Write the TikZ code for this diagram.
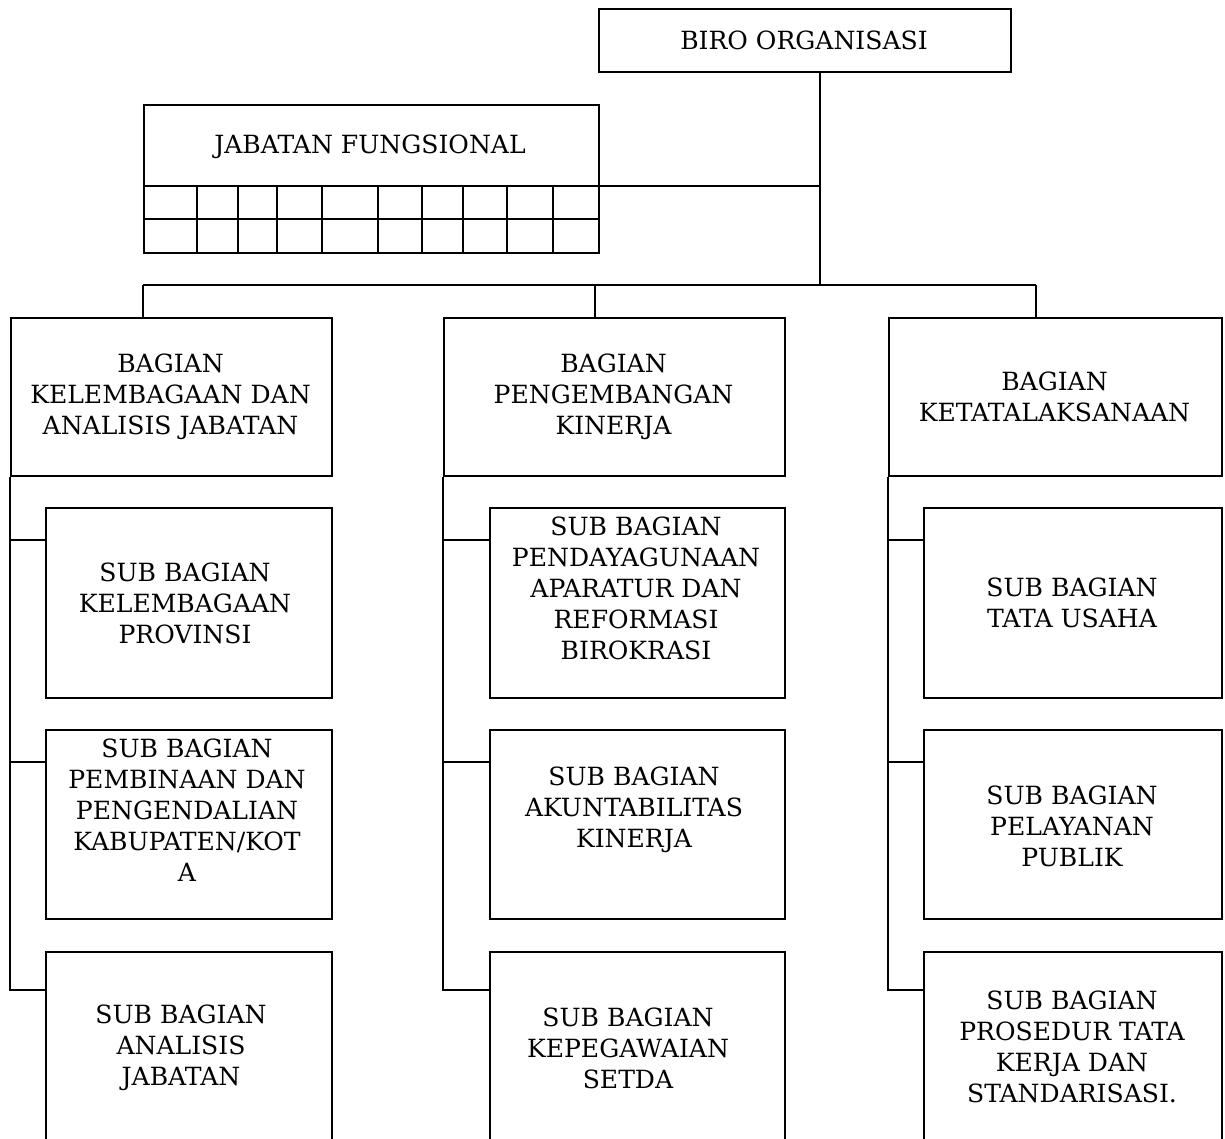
\documentclass[tikz,border=0pt]{standalone}
\usepackage{fontspec}
\setmainfont{DejaVu Serif}
\begin{document}
\begin{tikzpicture}[x=0.75pt,y=-0.75pt,
  box/.style={draw, line width=1.3pt, rectangle, inner sep=0pt, anchor=north west},
  txt/.style={align=center, inner sep=0pt, font=\fontsize{18.8}{23.25}\selectfont},
  conn/.style={draw, line width=1.3pt}]
\useasboundingbox (0,0) rectangle (1225,1139);
\clip (0,0) rectangle (1225,1139);

% top
\node[box, minimum width=412*0.75pt, minimum height=63*0.75pt] (biro) at (598,8) {};
\node[txt] (tbiro) at (804,40) {BIRO ORGANISASI};

% jabatan fungsional
\node[box, minimum width=455*0.75pt, minimum height=148*0.75pt] (jf) at (143,104) {};
\node[txt] (tjf) at (370,147) {JABATAN FUNGSIONAL};
\draw[line width=1.3pt] (143,186) -- (598,186) (143,219) -- (598,219);
\foreach \xx in {197,238,277,322,378,422,463,507,553}{
  \draw[line width=1.3pt] (\xx,186) -- (\xx,252);
}

% bagian boxes
\node[box, minimum width=321*0.75pt, minimum height=158*0.75pt] (bl) at (10,317) {};
\node[box, minimum width=341*0.75pt, minimum height=158*0.75pt] (bm) at (443,317) {};
\node[box, minimum width=333*0.75pt, minimum height=158*0.75pt] (br) at (888,317) {};
\node[txt] (tbl) at (170.5,397) {BAGIAN\\KELEMBAGAAN DAN\\ANALISIS JABATAN};
\node[txt] (tbm) at (613.5,397) {BAGIAN\\PENGEMBANGAN\\KINERJA};
\node[txt] (tbr) at (1054.5,397) {BAGIAN\\KETATALAKSANAAN};

% sub boxes left
\node[box, minimum width=286*0.75pt, minimum height=190*0.75pt] (l1) at (45,507) {};
\node[box, minimum width=286*0.75pt, minimum height=189*0.75pt] (l2) at (45,729) {};
\node[box, minimum width=286*0.75pt, minimum height=220*0.75pt] (l3) at (45,951) {};
% sub boxes middle
\node[box, minimum width=295*0.75pt, minimum height=190*0.75pt] (m1) at (489,507) {};
\node[box, minimum width=295*0.75pt, minimum height=189*0.75pt] (m2) at (489,729) {};
\node[box, minimum width=295*0.75pt, minimum height=220*0.75pt] (m3) at (489,951) {};
% sub boxes right
\node[box, minimum width=298*0.75pt, minimum height=190*0.75pt] (r1) at (923,507) {};
\node[box, minimum width=298*0.75pt, minimum height=189*0.75pt] (r2) at (923,729) {};
\node[box, minimum width=298*0.75pt, minimum height=220*0.75pt] (r3) at (923,951) {};

\node[txt] (tl1) at (185,603) {SUB BAGIAN\\KELEMBAGAAN\\PROVINSI};
\node[txt] (tl2) at (187,810) {SUB BAGIAN\\PEMBINAAN DAN\\PENGENDALIAN\\KABUPATEN/KOT\\A};
\node[txt] (tl3) at (181,1048) {SUB BAGIAN\\ANALISIS\\JABATAN};
\node[txt] (tm1) at (636,588) {SUB BAGIAN\\PENDAYAGUNAAN\\APARATUR DAN\\REFORMASI\\BIROKRASI};
\node[txt] (tm2) at (634,810) {SUB BAGIAN\\AKUNTABILITAS\\KINERJA};
\node[txt] (tm3) at (628,1048) {SUB BAGIAN\\KEPEGAWAIAN\\SETDA};
\node[txt] (tr1) at (1072,603) {SUB BAGIAN\\TATA USAHA};
\node[txt] (tr2) at (1072,826) {SUB BAGIAN\\PELAYANAN\\PUBLIK};
\node[txt] (tr3) at (1072,1047) {SUB BAGIAN\\PROSEDUR TATA\\KERJA DAN\\STANDARISASI.};

% connectors
\coordinate (spine) at (820,285);
\coordinate (jfj) at (820,186);
\coordinate (busL) at (143,285);
\coordinate (busM) at (595,285);
\coordinate (busR) at (1036,285);
\draw[conn] (biro.south west -| spine) -- (spine);
\draw[conn] (jf.east |- jfj) -- (jfj);
\draw[conn] (busL) -- (busR);
\draw[conn] (busL) -- (busL |- bl.north);
\draw[conn] (busM) -- (busM |- bm.north);
\draw[conn] (busR) -- (busR |- br.north);

\foreach \b/\a/\c/\d in {bl/l1/l2/l3, bm/m1/m2/m3, br/r1/r2/r3}{
  \draw[conn] (\b.south west) -- (\b.south west |- {0,990}) -- (\d.west |- {0,990});
  \draw[conn] (\b.south west |- {0,540}) -- (\a.west |- {0,540});
  \draw[conn] (\b.south west |- {0,762}) -- (\c.west |- {0,762});
}
\end{tikzpicture}
\end{document}
